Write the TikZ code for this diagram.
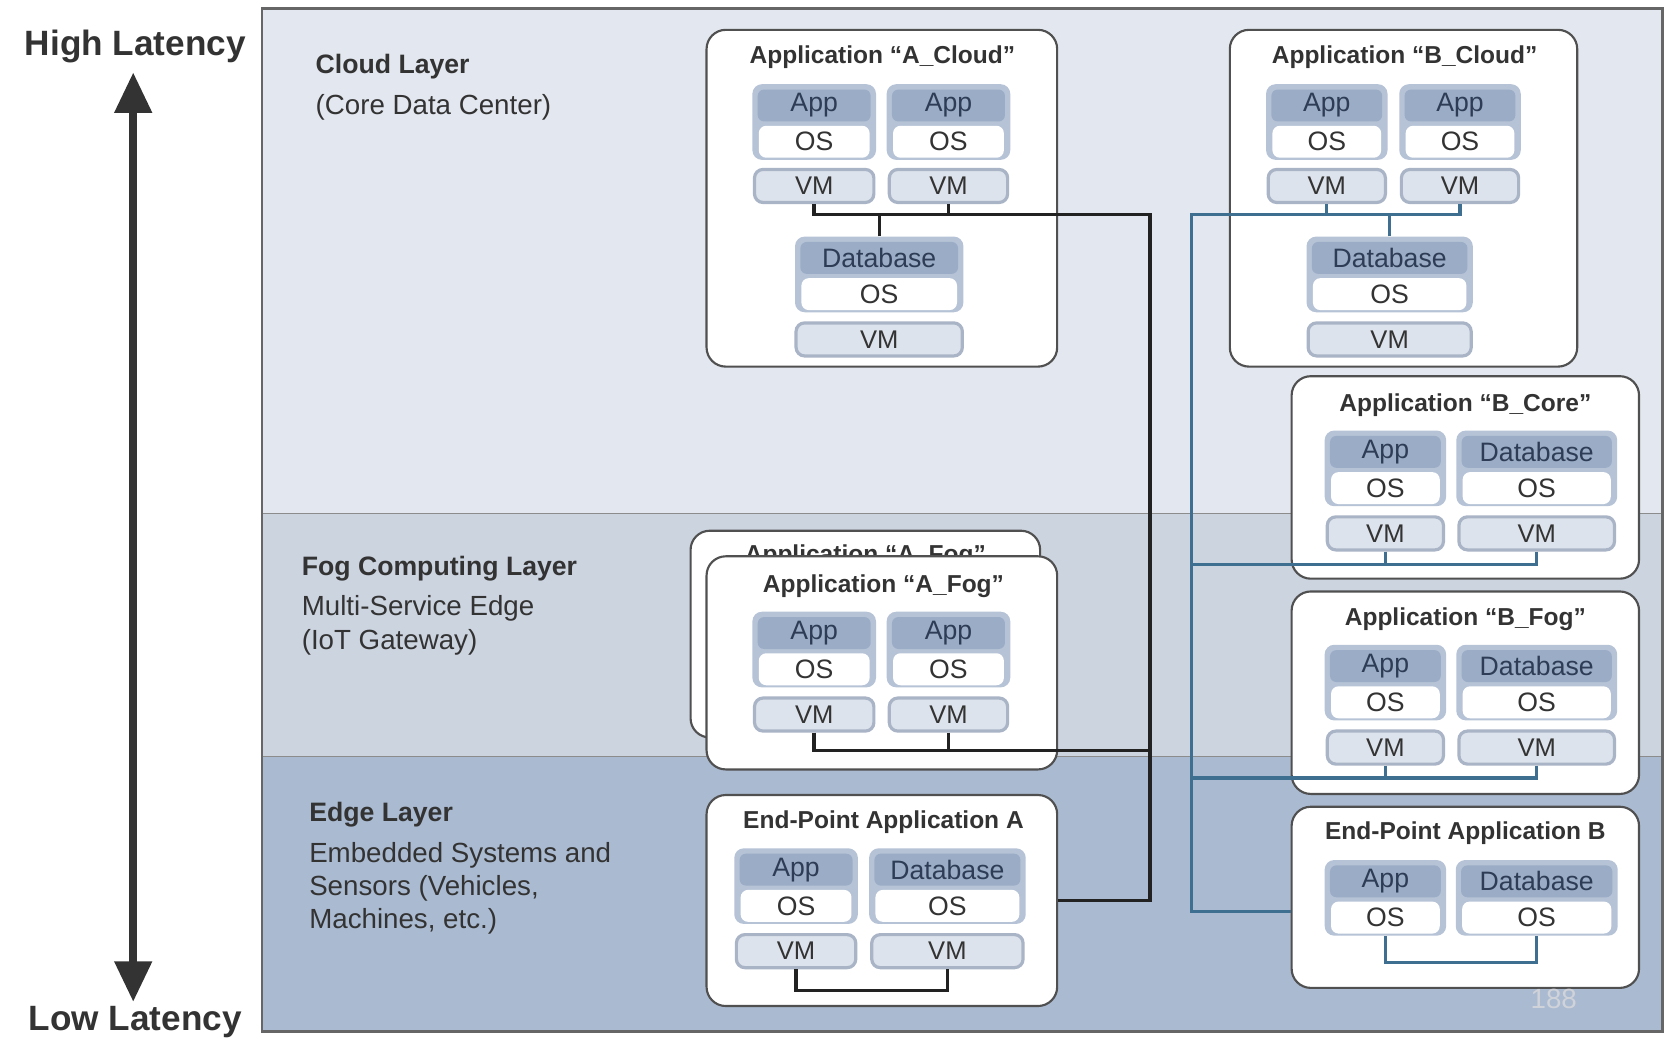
\documentclass[tikz,border=0pt]{standalone}
\usepackage{fontspec}
\setmainfont{Liberation Sans}
\usetikzlibrary{arrows.meta}
\definecolor{cloudbg}{HTML}{E3E7EF}
\definecolor{fogbg}{HTML}{CCD4E0}
\definecolor{edgebg}{HTML}{AABAD1}
\definecolor{stackc}{HTML}{B6C3D6}
\definecolor{headc}{HTML}{9AACC6}
\definecolor{vmc}{HTML}{DDE3EC}
\definecolor{vmb}{HTML}{A9B5C7}
\definecolor{bluel}{HTML}{3E6E90}
\definecolor{blackl}{HTML}{222222}
\definecolor{txt}{HTML}{333333}
\definecolor{headtxt}{HTML}{2E3D55}
\definecolor{boxb}{HTML}{505050}
\definecolor{pgnum}{HTML}{D0D3D9}
\newcommand\stacknode[5]{%
  \node[stackbox, minimum width=#4, minimum height=71] (#1) at (#2,#3+35.5) {};
  \node[headbox, minimum width=#4-10, minimum height=30] (#1h) at (#2,#3+20) {#5};
  \node[osbox, minimum width=#4-12, minimum height=30] (#1o) at (#2,#3+54) {OS};
}
\newcommand\vmnode[4]{\node[vmbox, minimum width=#4, minimum height=31] (#1) at (#2,#3+15.5) {VM};}
\newcommand\appframe[5]{\node[appbox, minimum width={#4-#2}, minimum height={#5-#3}] (#1) at ({(#2+#4)/2},{(#3+#5)/2}) {};}
\begin{document}
\begin{tikzpicture}[x=1pt,y=-1pt,
  appbox/.style={draw=boxb, line width=2, fill=white, rounded corners=18, inner sep=0},
  stackbox/.style={fill=stackc, rounded corners=9, inner sep=0},
  headbox/.style={fill=headc, rounded corners=6, inner sep=0, font=\fontsize{25}{25}\selectfont, text=headtxt},
  osbox/.style={fill=white, rounded corners=7, inner sep=0, font=\fontsize{25}{25}\selectfont, text=txt},
  vmbox/.style={fill=vmc, draw=vmb, line width=3, rounded corners=8, inner sep=0, font=\fontsize{24}{24}\selectfont, text=txt},
  ttl/.style={anchor=base, inner sep=0, font=\bfseries\fontsize{23}{23}\selectfont, text=txt},
  lyr/.style={anchor=base west, inner sep=0, font=\bfseries\fontsize{25}{25}\selectfont, text=txt},
  lyrsub/.style={anchor=base west, inner sep=0, font=\fontsize{26}{26}\selectfont, text=txt},
  lat/.style={anchor=base, inner sep=0, font=\bfseries\fontsize{33}{33}\selectfont, text=txt},
  blk/.style={draw=blackl, line width=3.2},
  blu/.style={draw=bluel, line width=3}]
\useasboundingbox[fill=white] (0,0) rectangle (1568,978);
% layers
\fill[cloudbg] (246,8) rectangle (1560,482);
\fill[fogbg] (246,482) rectangle (1560,710);
\fill[edgebg] (246,710) rectangle (1560,968);
\draw[draw=black!45, line width=1.5] (246,482) -- (1560,482) (246,710) -- (1560,710);
\draw[draw=black!60, line width=2.5] (246,8) rectangle (1560,968);
% latency arrow
\node[lat] (hl) at (127,52) {High Latency};
\node[lat] (ll) at (127,967) {Low Latency};
\coordinate (atop) at (125,68);
\coordinate (abot) at (125,940);
\draw[draw=txt, line width=7, {Triangle[length=38pt,width=34pt]}-{Triangle[length=38pt,width=34pt]}] (atop) -- (abot);
% layer labels
\node[lyr] (cl) at (296,69) {Cloud Layer};
\node[lyrsub] (cl2) at (296,107) {(Core Data Center)};
\node[lyr] (fl) at (283,540) {Fog Computing Layer};
\node[lyrsub] (fl2) at (283,578) {Multi-Service Edge};
\node[lyrsub] (fl3) at (283,609) {(IoT Gateway)};
\node[lyr] (el) at (290,771) {Edge Layer};
\node[lyrsub] (el2) at (290,809) {Embedded Systems and};
\node[lyrsub] (el3) at (290,840) {Sensors (Vehicles,};
\node[lyrsub] (el4) at (290,871) {Machines, etc.)};
% junction points
\coordinate (jA) at (1079,201);
\coordinate (jAf) at (1079,704);
\coordinate (jB) at (1118,201);
\coordinate (jBk) at (1118,530);
\coordinate (jBf) at (1118,730);
\coordinate (jBe) at (1118,855);
% ---------- A_Cloud
\appframe{acB}{663}{28}{992}{344}
\node[ttl] (acT) at (828,60) {Application “A\_Cloud”};
\stacknode{ac1}{764}{79}{116}{App}
\stacknode{ac2}{890}{79}{116}{App}
\vmnode{ac1v}{764}{159}{112}
\vmnode{ac2v}{890}{159}{111}
\stacknode{acd}{825}{222}{158}{Database}
\vmnode{acdv}{825}{303}{156}
% ---------- B_Cloud
\appframe{bcB}{1154}{28}{1480}{344}
\node[ttl] (bcT) at (1318,60) {Application “B\_Cloud”};
\stacknode{bc1}{1245}{79}{114}{App}
\stacknode{bc2}{1370}{79}{114}{App}
\vmnode{bc1v}{1245}{159}{110}
\vmnode{bc2v}{1370}{159}{110}
\stacknode{bcd}{1304}{222}{156}{Database}
\vmnode{bcdv}{1304}{303}{153}
% ---------- B_Core
\appframe{bkB}{1212}{353}{1538}{543}
\node[ttl] (bkT) at (1375,386) {Application “B\_Core”};
\stacknode{bk1}{1300}{404}{114}{App}
\stacknode{bk2}{1442}{404}{151}{Database}
\vmnode{bk1v}{1300}{485}{109}
\vmnode{bk2v}{1442}{485}{146}
% ---------- B_Fog
\appframe{bfB}{1212}{555}{1538}{745}
\node[ttl] (bfT) at (1375,587) {Application “B\_Fog”};
\stacknode{bf1}{1300}{605}{114}{App}
\stacknode{bf2}{1442}{605}{151}{Database}
\vmnode{bf1v}{1300}{686}{109}
\vmnode{bf2v}{1442}{686}{146}
% ---------- End-Point B
\appframe{ebB}{1212}{757}{1538}{927}
\node[ttl] (ebT) at (1375,788) {End-Point Application B};
\stacknode{eb1}{1300}{807}{114}{App}
\stacknode{eb2}{1442}{807}{152}{Database}
% ---------- A_Fog (back and front)
\appframe{afK}{648}{498}{976}{692}
\node[ttl] (afKT) at (812,528) {Application “A\_Fog”};
\appframe{afB}{663}{522}{992}{722}
\node[ttl] (afT) at (829,556) {Application “A\_Fog”};
\stacknode{af1}{764}{574}{116}{App}
\stacknode{af2}{890}{574}{116}{App}
\vmnode{af1v}{764}{655}{112}
\vmnode{af2v}{890}{655}{111}
% ---------- End-Point A
\appframe{eaB}{663}{746}{992}{944}
\node[ttl] (eaT) at (829,777) {End-Point Application A};
\stacknode{ea1}{747}{796}{116}{App}
\stacknode{ea2}{889}{796}{147}{Database}
\vmnode{ea1v}{747}{877}{112}
\vmnode{ea2v}{889}{877}{142}
% ---------- black connectors
\draw[blk] (ac1v.south) |- (jA) |- (eaB.east);
\draw[blk] (ac2v.south) -- (ac2v.south |- jA);
\draw[blk] (acd.north) -- (acd.north |- jA);
\draw[blk] (af1v.south) |- (jAf);
\draw[blk] (af2v.south) -- (af2v.south |- jAf);
\draw[blk] (ea1v.south) -- ++(0,20) -| (ea2v.south);
% ---------- blue connectors
\draw[blu] (bc2v.south) |- (jB) -- (jBe) -- (jBe -| ebB.west);
\draw[blu] (bc1v.south) -- (bc1v.south |- jB);
\draw[blu] (bcd.north) -- (bcd.north |- jB);
\draw[blu] (bk2v.south) |- (jBk);
\draw[blu] (bk1v.south) -- (bk1v.south |- jBk);
\draw[blu] (bf2v.south) |- (jBf);
\draw[blu] (bf1v.south) -- (bf1v.south |- jBf);
\draw[blu] (eb1.south) -- ++(0,25) -| (eb2.south);
% page number
\node[text=pgnum, font=\fontsize{26}{26}\selectfont, inner sep=0] (pg) at (1458,937) {188};
\end{tikzpicture}
\end{document}
